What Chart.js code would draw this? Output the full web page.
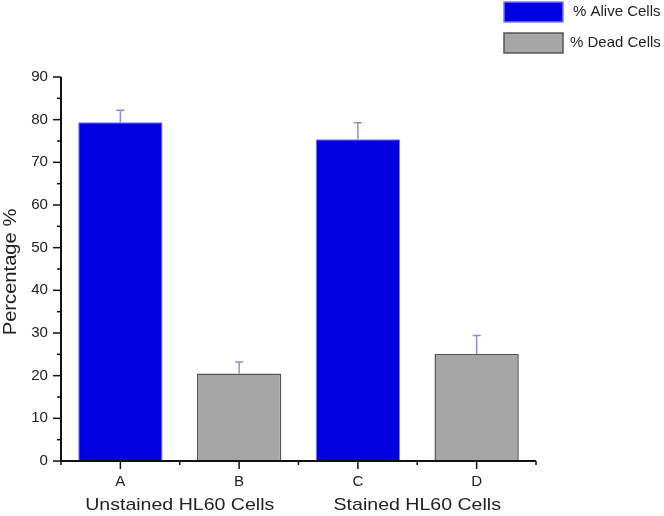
<!DOCTYPE html>
<html>
<head>
<meta charset="utf-8">
<script src="https://cdn.jsdelivr.net/npm/chart.js@4/dist/chart.umd.min.js"></script>
<style>
  html, body { margin: 0; padding: 0; background: #fff; }
  #wrap { width: 664px; height: 516px; }
</style>
</head>
<body>
<div id="wrap"><canvas id="barChart"></canvas></div>
<script>
const categories = ['A', 'B', 'C', 'D'];
const groupLabels = ['Unstained HL60 Cells', 'Stained HL60 Cells'];
const aliveValues = [79.4, null, 75.4, null];
const deadValues = [null, 20.5, null, 25.1];
const aliveErrors = [2.8, null, 3.9, null];
const deadErrors = [null, 2.7, null, 4.3];
const yTicks = [0, 10, 20, 30, 40, 50, 60, 70, 80, 90];

const FONT = '"Liberation Sans", Arial, sans-serif';

// the original's text is a bit wider than Arial, so stretch it a little
function wideText(ctx, text, x, y, sx) {
  ctx.save();
  ctx.translate(x, y);
  ctx.scale(sx, 1);
  ctx.fillText(text, 0, 0);
  ctx.restore();
}

// error bars, axes, labels and legend are drawn by hand after the bars
const extras = {
  id: 'extras',
  afterDatasetsDraw(chart) {
    const ctx = chart.ctx;
    const x = chart.scales.x;
    const y = chart.scales.y;
    const area = chart.chartArea;
    ctx.save();

    // error bars (upper half only)
    ctx.strokeStyle = '#8c8cdc';
    ctx.lineWidth = 1.5;
    chart.data.datasets.forEach(ds => {
      ds.data.forEach((v, i) => {
        const err = ds.errors[i];
        if (v == null || err == null) return;
        const px = x.getPixelForValue(i);
        const top = y.getPixelForValue(v + err);
        const base = y.getPixelForValue(v);
        ctx.beginPath();
        ctx.moveTo(px, base);
        ctx.lineTo(px, top);
        ctx.moveTo(px - 4, top);
        ctx.lineTo(px + 4, top);
        ctx.stroke();
      });
    });

    // axes
    ctx.strokeStyle = '#111';
    ctx.lineWidth = 2;
    ctx.beginPath();
    ctx.moveTo(area.left, area.top);
    ctx.lineTo(area.left, area.bottom);
    ctx.lineTo(area.right, area.bottom);
    ctx.stroke();

    ctx.lineWidth = 1.5;
    ctx.fillStyle = '#222';
    ctx.font = '14px ' + FONT;
    ctx.textAlign = 'right';
    ctx.textBaseline = 'middle';
    yTicks.forEach(t => {
      const py = y.getPixelForValue(t);
      ctx.beginPath();
      ctx.moveTo(area.left - 8, py);
      ctx.lineTo(area.left, py);
      ctx.stroke();
      wideText(ctx, String(t), area.left - 13, py, 1.08);
      if (t < 90) {
        const pm = y.getPixelForValue(t + 5);
        ctx.beginPath();
        ctx.moveTo(area.left - 4, pm);
        ctx.lineTo(area.left, pm);
        ctx.stroke();
      }
    });

    ctx.textAlign = 'center';
    ctx.textBaseline = 'middle';
    const step = x.getPixelForValue(1) - x.getPixelForValue(0);
    categories.forEach((c, i) => {
      const px = x.getPixelForValue(i);
      ctx.beginPath();
      ctx.moveTo(px, area.bottom);
      ctx.lineTo(px, area.bottom + 8);
      ctx.stroke();
      wideText(ctx, c, px, area.bottom + 21, 1.08);
      const edge = px - step / 2;
      ctx.beginPath();
      ctx.moveTo(edge, area.bottom);
      ctx.lineTo(edge, area.bottom + 4);
      ctx.stroke();
    });
    ctx.beginPath();
    ctx.moveTo(area.right, area.bottom);
    ctx.lineTo(area.right, area.bottom + 4);
    ctx.stroke();

    ctx.font = '17px ' + FONT;
    groupLabels.forEach((g, k) => {
      const px = (x.getPixelForValue(k * 2) + x.getPixelForValue(k * 2 + 1)) / 2;
      wideText(ctx, g, px, area.bottom + 44, 1.15);
    });

    // y title
    ctx.save();
    ctx.font = '18px ' + FONT;
    ctx.translate(11, 272);
    ctx.rotate(-Math.PI / 2);
    wideText(ctx, 'Percentage %', 0, 0, 1.12);
    ctx.restore();

    // legend
    ctx.font = '15px ' + FONT;
    ctx.textAlign = 'left';
    ctx.textBaseline = 'middle';
    chart.data.datasets.forEach((ds, di) => {
      const ly = 2 + di * 31;
      ctx.fillStyle = ds.backgroundColor;
      ctx.fillRect(504, ly, 59, 20);
      ctx.strokeStyle = ds.borderColor;
      ctx.lineWidth = 1.5;
      ctx.strokeRect(504, ly, 59, 20);
      ctx.fillStyle = '#222';
      ctx.fillText(ds.label, 573 - di * 3, ly + 10);
    });

    ctx.restore();
  }
};

new Chart(document.getElementById('barChart'), {
  type: 'bar',
  data: {
    labels: categories,
    datasets: [
      {
        label: '% Alive Cells',
        data: aliveValues,
        errors: aliveErrors,
        backgroundColor: '#0000e0',
        borderColor: '#7a7aff',
        borderWidth: 1
      },
      {
        label: '% Dead Cells',
        data: deadValues,
        errors: deadErrors,
        backgroundColor: '#a6a6a6',
        borderColor: '#555555',
        borderWidth: 1.5
      }
    ]
  },
  options: {
    responsive: true,
    maintainAspectRatio: false,
    animation: false,
    layout: { padding: { left: 61, right: 128, top: 77, bottom: 55 } },
    datasets: { bar: { barPercentage: 0.71, categoryPercentage: 1 } },
    plugins: { legend: { display: false }, tooltip: { enabled: false } },
    scales: {
      x: { display: false, stacked: true, offset: true },
      y: { display: false, stacked: false, min: 0, max: 90 }
    }
  },
  plugins: [extras]
});
</script>
</body>
</html>
